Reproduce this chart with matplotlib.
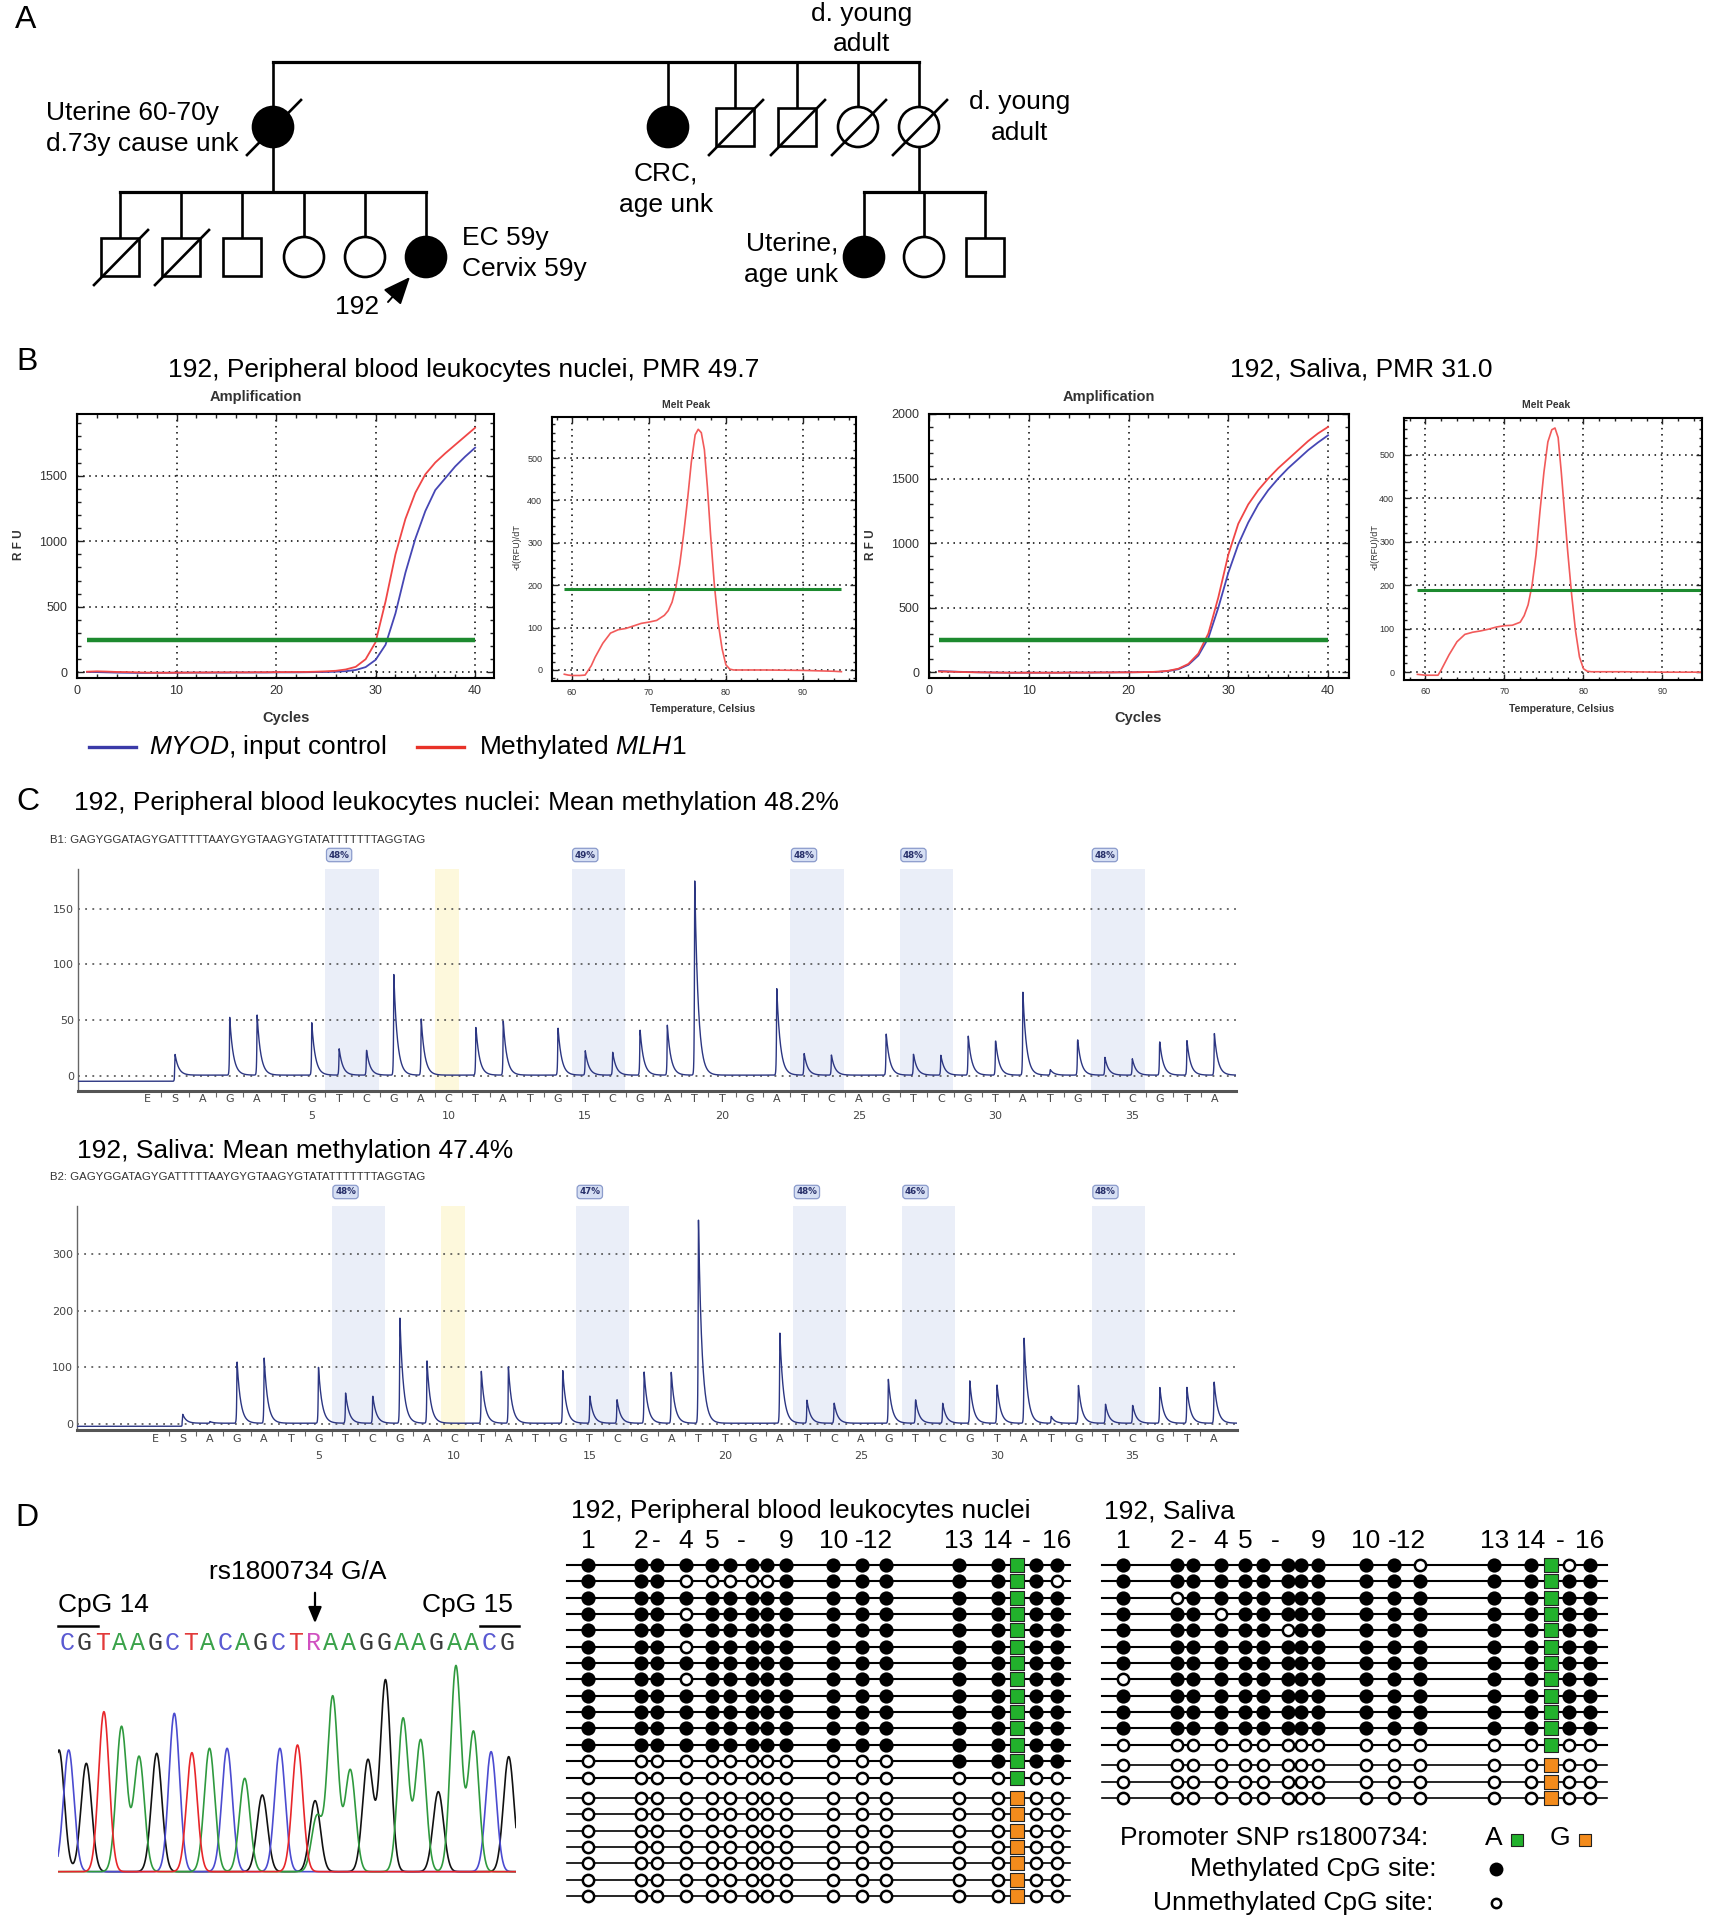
import numpy as np
import matplotlib
matplotlib.use("Agg")
import matplotlib.pyplot as plt
from matplotlib.patches import Circle, Rectangle
from matplotlib.ticker import MultipleLocator
from matplotlib.transforms import blended_transform_factory

plt.rcParams['font.family'] = ['Liberation Sans', 'DejaVu Sans']
plt.rcParams['mathtext.fontset'] = 'custom'
plt.rcParams['mathtext.rm'] = 'Liberation Sans'
plt.rcParams['mathtext.it'] = 'Liberation Sans:italic'

W, H = 1713, 1920
BIG = 19
LET = 23

# ---------------- data ----------------
cycles = list(range(1, 41))
pbl_myod = [3, 2, 0, -2, -3, -4, -4, -3, -3, -3, -2, -2, -2, -2, -2, -1, -1, -1, -1, 0,
            0, 0, 1, 2, 3, 5, 9, 18, 40, 95, 210, 450, 760, 1020, 1230, 1390, 1480, 1570, 1645, 1713]
pbl_mlh1 = [5, 8, 6, 3, 2, 0, -2, -3, -3, -2, -2, -1, -1, 0, 0, 0, 0, 1, 1, 2,
            2, 3, 3, 5, 8, 12, 22, 42, 100, 230, 540, 900, 1170, 1370, 1510, 1600, 1670, 1735, 1800, 1865]
sal_myod = [10, 7, 4, 2, 0, -1, -2, -3, -3, -3, -3, -3, -3, -2, -2, -2, -1, -1, 0, 0,
            1, 2, 4, 10, 24, 58, 130, 265, 500, 770, 990, 1160, 1300, 1410, 1500, 1580, 1650, 1720, 1780, 1835]
sal_mlh1 = [6, 5, 3, 1, 0, -1, -2, -3, -3, -3, -3, -3, -3, -2, -2, -2, -1, -1, 0, 0,
            1, 2, 5, 12, 28, 65, 145, 300, 580, 910, 1150, 1300, 1410, 1500, 1580, 1650, 1720, 1790, 1850, 1900]
amp_threshold = 250

melt_pbl_t = [59, 59.5, 60, 61, 61.7, 62.5, 63, 64, 65, 66, 67, 68, 69, 70, 71, 72, 72.5, 73, 73.5, 74,
              74.5, 75, 75.5, 76, 76.4, 76.8, 77.2, 77.6, 78, 78.5, 79, 79.5, 80, 80.5, 81, 85, 90, 94, 95]
melt_pbl_v = [-10, -12, -13, -13, -12, 10, 30, 63, 87, 95, 98, 104, 110, 113, 117, 129, 140, 160, 195, 250,
              320, 400, 490, 555, 568, 560, 520, 430, 320, 200, 110, 50, 12, 2, 0, 0, -1, -3, -4]
melt_sal_t = [59, 60, 61, 61.6, 62, 63, 64, 65, 66, 67, 68, 69, 70, 71, 72, 72.5, 73, 73.5, 74, 74.5,
              75, 75.5, 76, 76.4, 76.8, 77.2, 77.6, 78, 78.5, 79, 79.5, 80, 80.5, 81, 85, 90, 95]
melt_sal_v = [-5, -7, -7, -7, 5, 40, 70, 87, 92, 95, 99, 104, 107, 108, 115, 130, 155, 200, 270, 370,
              460, 530, 558, 562, 540, 460, 370, 280, 180, 95, 35, 8, 2, 1, 1, 0, 0]
melt_threshold = 190

dispensation = "ESAGATGTCGACTATGTCGATTGATCAGTCGTATGTCGTA"   # positions -1 (E), 0 (S), 1..38
pyro_pbl = [0, 19, 0, 52, 55, 0, 47, 24, 23, 90, 51, 0, 44, 49, 0, 44, 22, 21, 42, 45,
            178, 0, 0, 79, 20, 18, 0, 38, 19, 18, 36, 32, 75, 5, 33, 16, 15, 31, 31, 38]
pyro_sal = [0, 16, 3, 112, 117, 0, 102, 54, 50, 191, 111, 0, 94, 100, 0, 95, 48, 43, 92, 92,
            371, 0, 0, 164, 41, 37, 0, 78, 43, 36, 75, 70, 153, 12, 69, 34, 33, 65, 64, 76]
cpg_pairs = [(6, 7), (15, 16), (23, 24), (27, 28), (34, 35)]
control_c = 10
pct_pbl = ["48%", "49%", "48%", "48%", "48%"]
pct_sal = ["48%", "47%", "48%", "46%", "48%"]
seq_assay = "GAGYGGATAGYGATTTTTAAYGYGTAAGYGTATATTTTTTTAGGTAG"

sanger_seq = "CGTAAGCTACAGCTRAAGGAAGAACG"
chrom_pos = [-0.55, 0, 1, 2, 3, 4, 5, 6, 7, 8, 9, 10, 11, 12, 13, 14, 14.1,
             15, 16, 17, 18, 19, 20, 21, 22, 23, 24, 25]
chrom_base = ['G', 'C', 'G', 'T', 'A', 'A', 'G', 'C', 'T', 'A', 'C', 'A', 'G', 'C', 'T', 'G', 'A',
              'A', 'A', 'G', 'G', 'A', 'A', 'G', 'A', 'A', 'C', 'G']
chrom_h = [365, 365, 325, 480, 435, 345, 355, 475, 357, 370, 370, 280, 230, 370, 380, 213, 165,
           525, 305, 335, 575, 460, 395, 240, 617, 420, 360, 345]

pbl_rows = ["1111111111111111", "1110000011111110", "1111111111111111", "1110111111111111",
            "1111111111111111", "1110111111111111", "1111111111111111", "1110111111111111",
            "1111111111111111", "1111111111111111", "1111111111111111", "1111111111111111",
            "0000000000001111", "0000000000000000"] + ["0000000000000000"] * 7
pbl_snp = "A" * 14 + "G" * 7
sal_rows = ["1111111111101101", "1111111111111111", "1011111111111111", "1110111111111111",
            "1111110111111111", "1111111111111111", "1111111111111111", "0111111111111111",
            "1111111111111111", "1111111111111111", "1111111111111111",
            "0000000000000000"] + ["0000000000000000"] * 3
sal_snp = "A" * 12 + "G" * 3
cpg_header = ["1", "2", "-", "4", "5", "-", "9", "10", "-12", "13", "14", "-", "16"]

# ---------------- figure ----------------
fig = plt.figure(figsize=(W / 100, H / 100), dpi=100)
ov = fig.add_axes([0, 0, 1, 1])
ov.set_xlim(0, W)
ov.set_ylim(H, 0)
ov.axis('off')


def px_axes(x0, y0, x1, y1):
    ax = fig.add_axes([x0 / W, 1 - y1 / H, (x1 - x0) / W, (y1 - y0) / H])
    ax.set_facecolor('none')
    return ax


def txt(x, y, s, **kw):
    kw.setdefault('fontsize', BIG)
    kw.setdefault('va', 'center')
    ov.text(x, y, s, **kw)


# ---------------- A: pedigree ----------------
txt(15, 20, "A", fontsize=LET)
LW = 1.9
R = 20


def symbol(x, y, sex, affected, deceased):
    fc = 'black' if affected else 'white'
    if sex == 'F':
        ov.add_patch(Circle((x, y), R, fc=fc, ec='black', lw=LW, zorder=3))
    else:
        ov.add_patch(Rectangle((x - R + 1, y - R + 1), 2 * R - 2, 2 * R - 2, fc=fc, ec='black', lw=LW, zorder=3))
    if deceased:
        ov.plot([x - 26, x + 28], [y + 28, y - 27], color='black', lw=LW, zorder=4)


gen2_x = [273, 668, 735, 797, 858, 919]
gen2 = [('F', 1, 1), ('F', 1, 0), ('M', 0, 1), ('M', 0, 1), ('F', 0, 1), ('F', 0, 1)]
gen3a_x = [120, 181, 242, 304, 365, 426]
gen3a = [('M', 0, 1), ('M', 0, 1), ('M', 0, 0), ('F', 0, 0), ('F', 0, 0), ('F', 1, 0)]
gen3b_x = [864, 924, 985]
gen3b = [('F', 1, 0), ('F', 0, 0), ('M', 0, 0)]
Y0, Y2, YB, Y3 = 62, 127, 192, 257

ov.plot([gen2_x[0], gen2_x[-1]], [Y0, Y0], color='black', lw=2.3)
for x, p in zip(gen2_x, gen2):
    ov.plot([x, x], [Y0, Y2 - R], color='black', lw=LW)
    symbol(x, Y2, *p)
ov.plot([gen2_x[0]] * 2, [Y2 + R, YB], color='black', lw=LW)
ov.plot([gen3a_x[0], gen3a_x[-1]], [YB, YB], color='black', lw=2.3)
for x, p in zip(gen3a_x, gen3a):
    ov.plot([x, x], [YB, Y3 - R], color='black', lw=LW)
    symbol(x, Y3, *p)
ov.plot([gen2_x[-1]] * 2, [Y2 + R, YB], color='black', lw=LW)
ov.plot([gen3b_x[0], gen3b_x[-1]], [YB, YB], color='black', lw=2.3)
for x, p in zip(gen3b_x, gen3b):
    ov.plot([x, x], [YB, Y3 - R], color='black', lw=LW)
    symbol(x, Y3, *p)

txt(862, 14, "d. young", ha='center')
txt(862, 44, "adult", ha='center')
txt(1020, 102, "d. young", ha='center')
txt(1020, 133, "adult", ha='center')
txt(46, 113, "Uterine 60-70y", ha='left')
txt(46, 144, "d.73y cause unk", ha='left')
txt(666, 174, "CRC,", ha='center')
txt(666, 205, "age unk", ha='center')
txt(462, 238, "EC 59y", ha='left')
txt(462, 269, "Cervix 59y", ha='left')
txt(838, 244, "Uterine,", ha='right')
txt(838, 275, "age unk", ha='right')
txt(357, 307, "192", ha='center')
ov.annotate('', xy=(410, 277), xytext=(388, 302),
            arrowprops=dict(arrowstyle='-|>,head_length=1.3,head_width=0.55', mutation_scale=13,
                            lw=1.4, color='black', shrinkA=0, shrinkB=0))

# ---------------- B: qPCR ----------------
txt(16, 362, "B", fontsize=LET)
txt(464, 370, "192, Peripheral blood leukocytes nuclei, PMR 49.7", ha='center')
txt(1361, 370, "192, Saliva, PMR 31.0", ha='center')

BLUE = '#4646b4'
RED = '#f04646'
GREEN = '#1d8a2f'


def style_frame(ax, xmaj, xmin, ymaj, ymin, lsize):
    for s in ax.spines.values():
        s.set_linewidth(1.5)
    ax.xaxis.set_major_locator(MultipleLocator(xmaj))
    ax.xaxis.set_minor_locator(MultipleLocator(xmin))
    ax.yaxis.set_major_locator(MultipleLocator(ymaj))
    ax.yaxis.set_minor_locator(MultipleLocator(ymin))
    ax.tick_params(which='both', direction='in', top=True, right=True, width=1, colors='#222',
                   labelsize=lsize, labelcolor='#333')
    ax.tick_params(which='major', length=5)
    ax.tick_params(which='minor', length=3)
    ax.tick_params(axis='y', pad=7)
    ax.tick_params(axis='x', pad=5)
    ax.grid(True, which='major', linestyle=(0, (1, 3)), color='black', lw=1.1)


def amp_plot(box, xlim, ylim, red, blue, title_x, rfu_x, cyc_x):
    ax = px_axes(*box)
    ax.plot(cycles, blue, color=BLUE, lw=1.3)
    ax.plot(cycles, red, color=RED, lw=1.3)
    ax.hlines(amp_threshold, cycles[0], cycles[-1], color=GREEN, lw=3.2)
    ax.set_xlim(*xlim)
    ax.set_ylim(*ylim)
    style_frame(ax, 10, 2, 500, 100, 9)
    txt(title_x, 397, "Amplification", ha='center', fontsize=10.5, fontweight='bold', color='#333')
    txt(rfu_x, 545, "R F U", ha='center', fontsize=8.5, fontweight='bold', rotation=90, color='#333')
    txt(cyc_x, 718, "Cycles", ha='center', fontsize=10.5, fontweight='bold', color='#333')
    return ax


def melt_plot(box, xlim, ylim, t, v, title_x, lab_x, tc_x):
    ax = px_axes(*box)
    ax.plot(t, v, color='#f25a5a', lw=1.2)
    ax.hlines(melt_threshold, t[0], t[-1], color=GREEN, lw=2.2)
    ax.set_xlim(*xlim)
    ax.set_ylim(*ylim)
    style_frame(ax, 10, 2, 100, 20, 6.5)
    ax.tick_params(which='major', length=4)
    ax.tick_params(which='minor', length=2)
    txt(title_x, 405, "Melt Peak", ha='center', fontsize=7.5, fontweight='bold', color='#333')
    txt(lab_x, 547, "-d(RFU)/dT", ha='center', fontsize=6.5, rotation=90, color='#333')
    txt(tc_x, 709, "Temperature, Celsius", ha='center', fontsize=7.5, fontweight='bold', color='#333')
    return ax


amp_plot((77, 414, 494, 678), (0, 41.9), (-43, 1970), pbl_mlh1, pbl_myod, 256, 19, 286)
amp_plot((929, 414, 1349, 678), (0, 42.1), (-44, 2000), sal_mlh1, sal_myod, 1109, 871, 1138)
melt_plot((552, 417, 856, 681), (57.4, 96.9), (-26, 597), melt_pbl_t, melt_pbl_v, 686, 517, 703)
melt_plot((1404, 418, 1702, 680), (57.3, 95.0), (-18, 585), melt_sal_t, melt_sal_v, 1546, 1375, 1562)

ov.plot([89, 136], [747, 747], color='#3a3aa8', lw=2.4)
txt(149, 747, r"$\mathit{MYOD}$, input control", ha='left')
ov.plot([417, 464], [747, 747], color='#e83228', lw=2.4)
txt(479, 747, r"Methylated $\mathit{MLH1}$", ha='left')

# ---------------- C: pyrograms ----------------
txt(16, 802, "C", fontsize=LET)
PYRO_FONT = ['DejaVu Sans']


def pyrogram(box, xmap, ylim, heights, ticks, pcts, title, title_x, title_y, lab, lab_y, pct_y, let_y, num_y):
    x0, s = xmap
    xlim = ((box[0] - x0) / s, (box[2] - x0) / s)
    ax = px_axes(*box)
    ax.set_xlim(*xlim)
    ax.set_ylim(*ylim)
    trans = blended_transform_factory(ax.transData, ov.transData)
    for t_pos, c_pos in cpg_pairs:
        ax.axvspan(t_pos - 0.5, c_pos + 0.45, color='#eaeef8', lw=0, zorder=0)
    ax.axvspan(control_c - 0.5, control_c + 0.4, color='#fdf8dc', lw=0, zorder=0)
    for v in ticks:
        ax.axhline(v, color='#444', lw=1.1, linestyle=(0, (1.2, 3.5)), zorder=1)
    pos = np.arange(-1, len(dispensation) - 1)
    xx = np.linspace(xlim[0], xlim[1], 6000)
    yy = np.where(xx < -0.02, -4.5, 1.0)
    for p, h in zip(pos, heights):
        if h > 0:
            d = xx - p
            yy = yy + h * np.where(d >= 0, np.exp(-d / 0.13), np.exp(np.clip(d, -5, 0) / 0.012))
    ax.plot(xx, yy, color='#2c3682', lw=1.0, zorder=3)
    for side in ['top', 'right']:
        ax.spines[side].set_visible(False)
    ax.spines['left'].set_color('#666')
    ax.spines['left'].set_linewidth(1)
    ax.spines['bottom'].set_color('#555')
    ax.spines['bottom'].set_linewidth(2.2)
    ax.set_xticks(pos[:-1] + 0.5)
    ax.set_xticklabels([])
    ax.set_yticks(ticks)
    ax.set_yticklabels([str(v) for v in ticks], family=PYRO_FONT, fontsize=8, color='#444')
    ax.tick_params(axis='x', length=4, color='#666', width=0.8)
    ax.tick_params(axis='y', length=0, pad=3)
    for p, ch in zip(pos, dispensation):
        ax.text(p, let_y, ch, transform=trans, ha='center', va='center', family=PYRO_FONT,
                fontsize=8, color='#444')
    for n in range(5, 39, 5):
        ax.text(n, num_y, str(n), transform=trans, ha='center', va='center', family=PYRO_FONT,
                fontsize=8, color='#444')
    for (t_pos, c_pos), pc in zip(cpg_pairs, pcts):
        ax.text(t_pos, pct_y, pc, transform=trans, ha='center', va='center', family=PYRO_FONT,
                fontsize=6.3, fontweight='bold', color='#28306a',
                bbox=dict(boxstyle='round,pad=0.25,rounding_size=0.35', fc='#d6dff3', ec='#8c9ccc', lw=0.9))
    txt(title_x, title_y, title, ha='left')
    txt(50, lab_y, lab + ": " + seq_assay, ha='left', fontsize=8.2, color='#333',
        family=['Liberation Sans Narrow', 'Liberation Sans'])
    return ax


pyrogram((78, 869, 1236, 1091), (175, 27.35), (-13.2, 185.4), pyro_pbl, [0, 50, 100, 150], pct_pbl,
         "192, Peripheral blood leukocytes nuclei: Mean methylation 48.2%", 74, 803, "B1", 840, 855, 1099, 1116)
pyrogram((77, 1206, 1237, 1430), (182.7, 27.14), (-11, 385), pyro_sal, [0, 100, 200, 300], pct_sal,
         "192, Saliva: Mean methylation 47.4%", 77, 1151, "B2", 1177, 1192, 1439, 1456)

# ---------------- D: Sanger + bisulfite clones ----------------
txt(15, 1518, "D", fontsize=LET)
base_col = {'A': '#2f9a3e', 'C': '#4b4bd0', 'G': '#111111', 'T': '#e8262a', 'R': '#d04fc0'}
seq_col = {'A': '#3aa24a', 'C': '#5a5ad2', 'G': '#3a3a3a', 'T': '#e23a3a', 'R': '#d050c0'}

cx0, cx1 = 58, 516
cs_map = (68.7, 17.6)
cax = px_axes(cx0, 1650, cx1, 1875)
clim = ((cx0 - cs_map[0]) / cs_map[1], (cx1 - cs_map[0]) / cs_map[1])
cax.set_xlim(*clim)
cax.set_ylim(-10, 665)
cax.axis('off')
xc = np.linspace(clim[0], clim[1], 3000)
for b in ['G', 'C', 'A', 'T']:
    yc = np.zeros_like(xc)
    for p, bb, h in zip(chrom_pos, chrom_base, chrom_h):
        if bb == b:
            yc = yc + h * np.exp(-0.5 * ((xc - p) / 0.3) ** 2)
    cax.plot(xc, yc, color=base_col[b], lw=1.2)
ctrans = blended_transform_factory(cax.transData, ov.transData)
for i, ch in enumerate(sanger_seq):
    cax.text(i - 0.1, 1643, ch, transform=ctrans, ha='center', va='center', fontsize=18,
             family=['Liberation Mono', 'DejaVu Sans Mono'], color=seq_col[ch])
txt(298, 1572, "rs1800734 G/A", ha='center')
ov.annotate('', xy=(315, 1626), xytext=(315, 1590),
            arrowprops=dict(arrowstyle='-|>,head_length=0.6,head_width=0.25', mutation_scale=16,
                            lw=1.6, color='black'))
txt(58, 1605, "CpG 14", ha='left')
ov.plot([58, 98], [1626, 1626], color='black', lw=1.8)
txt(513, 1605, "CpG 15", ha='right')
ov.plot([480, 519], [1626, 1626], color='black', lw=1.8)

pbl_sites = [588.3, 640.7, 656.7, 685.7, 712.3, 730, 752.3, 766.7, 786, 833.3, 861.7, 885.7, 959, 997.7, 1036, 1056.7]
pbl_sq = 1016.7
sal_sites = [1123.3, 1177.3, 1192.7, 1220.7, 1245, 1262.7, 1288.3, 1300.7, 1318.3, 1366, 1394, 1420, 1494.3, 1530.7, 1569.3, 1590]
sal_sq = 1551
SNP_COL = {'A': '#22b12c', 'G': '#f38b1c'}


def clones(sites, sq, rows, snp, line, title, title_x, split):
    txt(title_x, 1511, title, ha='left')
    hx = [sites[0], sites[1], sites[2], sites[3], sites[4], (sites[5] + sites[6]) / 2, sites[8],
          sites[9], (sites[10] + sites[11]) / 2, sites[12], sites[13], (sq + sites[14]) / 2, sites[15]]
    for x, s in zip(hx, cpg_header):
        txt(x, 1541, s, ha='center')
    y = 1565
    for i, (r, a) in enumerate(zip(rows, snp)):
        if i == split:
            y += 4
        ov.plot(line, [y, y], color='black', lw=1.5 if i < split else 1.2, zorder=2)
        filled = [x for x, m in zip(sites, r) if m == '1']
        empty = [x for x, m in zip(sites, r) if m == '0']
        ov.scatter(filled, [y] * len(filled), s=105, c='black', lw=0, zorder=3)
        ov.scatter(empty, [y] * len(empty), s=66, facecolors='white', edgecolors='black', lw=1.8, zorder=3)
        ov.scatter([sq], [y], s=88, marker='s', c=SNP_COL[a], edgecolors='#222', lw=0.8, zorder=4)
        y += 16.35


clones(pbl_sites, pbl_sq, pbl_rows, pbl_snp, [567, 1070], "192, Peripheral blood leukocytes nuclei", 571, 14)
clones(sal_sites, sal_sq, sal_rows, sal_snp, [1102, 1607], "192, Saliva", 1104, 12)

txt(1428, 1838, "Promoter SNP rs1800734:", ha='right')
txt(1485, 1838, "A", ha='left')
ov.scatter([1517], [1840], s=85, marker='s', c=SNP_COL['A'], edgecolors='#222', lw=0.8)
txt(1550, 1838, "G", ha='left')
ov.scatter([1585], [1840], s=85, marker='s', c=SNP_COL['G'], edgecolors='#222', lw=0.8)
txt(1436, 1869, "Methylated CpG site:", ha='right')
ov.scatter([1496], [1869], s=100, c='black', lw=0)
txt(1433, 1903, "Unmethylated CpG site:", ha='right')
ov.scatter([1496], [1903], s=45, facecolors='white', edgecolors='black', lw=1.8)

fig.savefig("out.png", dpi=100)
